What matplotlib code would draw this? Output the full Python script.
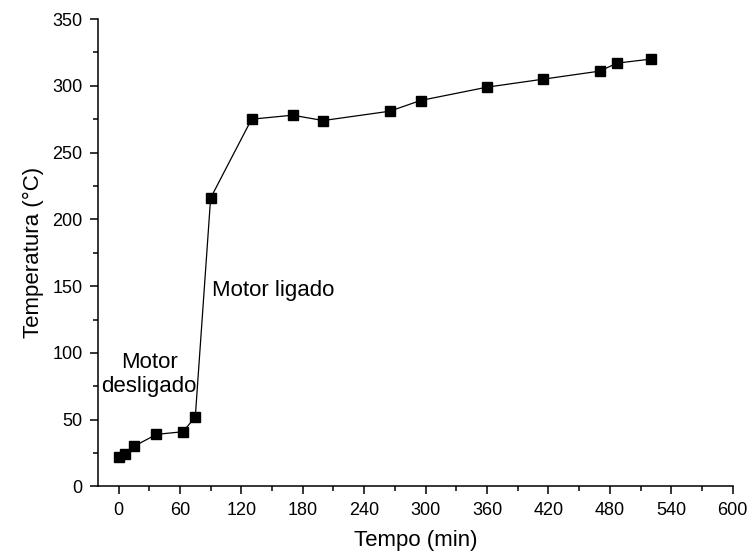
import matplotlib.pyplot as plt
from matplotlib.ticker import MultipleLocator

plt.rcParams['font.family'] = ['Liberation Sans', 'DejaVu Sans']

# time (min) and temperature (degC) readings
tempo = [0, 6, 15, 37, 63, 75, 90, 130, 170, 200, 265, 295, 360, 415, 470, 487, 520]
temperatura = [22, 24, 30, 39, 41, 52, 216, 275, 278, 274, 281, 289, 299, 305, 311, 317, 320]

fig = plt.figure(figsize=(7.5, 5.6), dpi=100)
ax = fig.add_axes([0.1307, 0.1313, 0.8463, 0.8347])

ax.plot(tempo, temperatura, color='black', linewidth=0.9,
        marker='s', markersize=7.5, markerfacecolor='black', markeredgecolor='black')

ax.set_xlim(-20, 600)
ax.set_ylim(0, 350)
ax.xaxis.set_major_locator(MultipleLocator(60))
ax.xaxis.set_minor_locator(MultipleLocator(30))
ax.yaxis.set_major_locator(MultipleLocator(50))
ax.yaxis.set_minor_locator(MultipleLocator(25))

for side in ['top', 'right']:
    ax.spines[side].set_visible(False)
for side in ['left', 'bottom']:
    ax.spines[side].set_linewidth(1.1)

ax.tick_params(which='major', direction='out', length=6, width=1.1, labelsize=13, pad=5)
ax.tick_params(which='minor', direction='out', length=3.5, width=1.1)

ax.set_xlabel('Tempo (min)', fontsize=16, labelpad=8)
ax.set_ylabel('Temperatura (\u00b0C)', fontsize=16, labelpad=6)

# annotations for the two motor states
ax.text(91, 147, 'Motor ligado', fontsize=16, ha='left', va='center')
ax.text(30, 84, 'Motor\ndesligado', fontsize=16, ha='center', va='center', linespacing=1.2)

plt.savefig('out.png', dpi=100)
plt.close()
